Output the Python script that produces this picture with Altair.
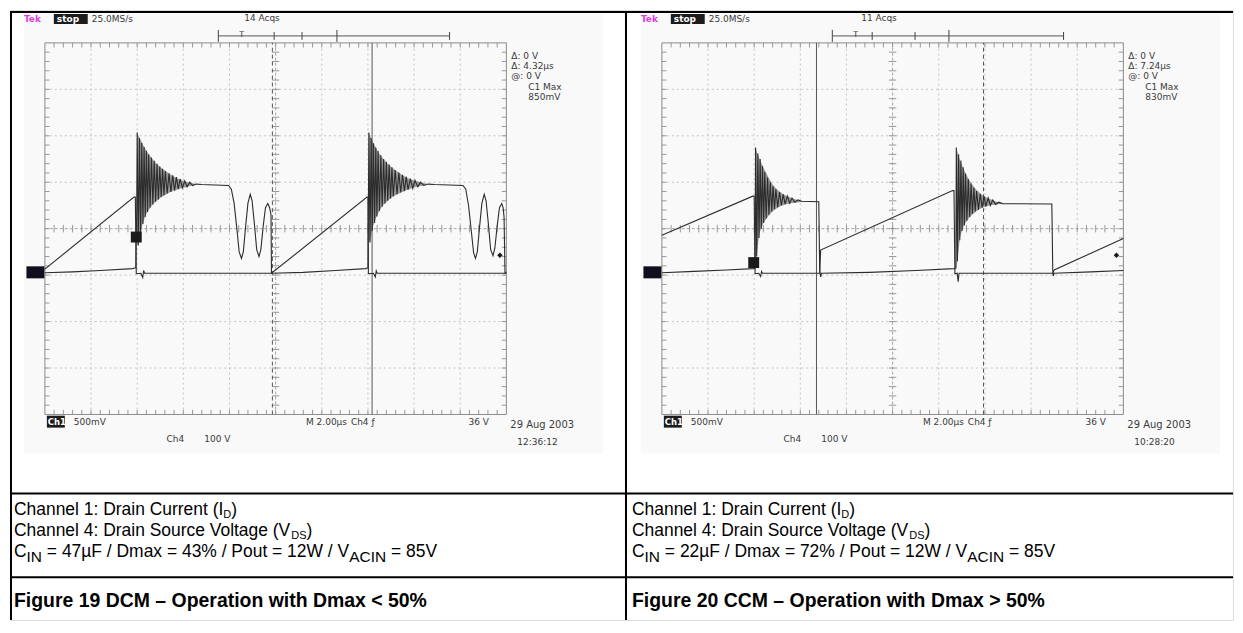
import altair as alt
import pandas as pd

# ---------------- data read off the two scope screens ----------------
# time in divisions (M 2.00 us/div), amplitude in divisions from graticule centre
f19_vds = [(0.00, -0.95), (0.60, -0.93), (1.20, -0.90), (1.90, -0.86), (1.97, -0.84), (1.99, 0.40), (2.00, 2.07),
           (2.025, -0.36), (2.05, 1.95), (2.075, -0.10), (2.10, 1.85), (2.125, 0.10), (2.15, 1.76), (2.175, 0.25),
           (2.20, 1.68), (2.225, 0.36), (2.25, 1.60), (2.28, 0.45), (2.31, 1.53), (2.34, 0.52), (2.37, 1.46),
           (2.40, 0.58), (2.43, 1.40), (2.46, 0.63), (2.49, 1.34), (2.52, 0.68), (2.55, 1.29), (2.58, 0.72),
           (2.61, 1.24), (2.65, 0.76), (2.69, 1.19), (2.73, 0.79), (2.77, 1.15), (2.81, 0.82), (2.85, 1.11),
           (2.89, 0.85), (2.93, 1.07), (2.98, 0.88), (3.03, 1.03), (3.08, 0.90), (3.14, 1.00), (3.20, 0.93),
           (3.28, 0.96), (3.40, 0.95), (3.98, 0.93), (4.04, 0.85), (4.10, 0.55), (4.16, 0.00), (4.21, -0.50),
           (4.26, -0.64), (4.30, -0.50), (4.35, 0.05), (4.40, 0.55), (4.45, 0.74), (4.49, 0.60), (4.54, 0.10),
           (4.59, -0.45), (4.64, -0.60), (4.68, -0.45), (4.73, 0.05), (4.78, 0.45), (4.83, 0.54), (4.87, 0.45),
           (4.90, 0.30), (4.91, -0.96), (4.93, -0.96), (5.60, -0.94), (6.30, -0.90), (6.95, -0.86), (7.00, -0.84),
           (7.01, 0.40), (7.02, 2.07), (7.045, -0.30), (7.07, 1.95), (7.095, -0.05), (7.12, 1.84), (7.145, 0.12),
           (7.17, 1.75), (7.195, 0.26), (7.22, 1.67), (7.25, 0.38), (7.28, 1.58), (7.31, 0.47), (7.34, 1.50),
           (7.37, 0.54), (7.40, 1.44), (7.43, 0.60), (7.46, 1.38), (7.49, 0.65), (7.52, 1.32), (7.55, 0.70),
           (7.59, 1.26), (7.63, 0.74), (7.67, 1.21), (7.71, 0.78), (7.75, 1.16), (7.79, 0.81), (7.83, 1.12),
           (7.87, 0.84), (7.92, 1.08), (7.97, 0.87), (8.02, 1.04), (8.08, 0.90), (8.14, 1.00), (8.21, 0.93),
           (8.30, 0.96), (8.45, 0.95), (9.06, 0.93), (9.12, 0.85), (9.18, 0.50), (9.24, -0.05), (9.29, -0.52),
           (9.33, -0.64), (9.37, -0.50), (9.42, 0.05), (9.47, 0.55), (9.52, 0.74), (9.56, 0.60), (9.61, 0.10),
           (9.66, -0.45), (9.71, -0.58), (9.75, -0.42), (9.80, 0.05), (9.85, 0.45), (9.90, 0.54), (9.93, 0.45),
           (9.95, 0.25), (9.97, -0.96), (10.00, -0.96)]
f19_id = [(0.00, -0.87), (1.93, 0.68), (1.96, 0.68), (1.97, -0.20), (1.98, -0.97), (2.08, -0.96), (2.12, -1.05),
          (2.14, -0.90), (2.16, -0.96), (4.91, -0.96), (6.98, 0.68), (7.00, 0.68), (7.01, -0.97), (7.12, -0.96),
          (7.16, -1.04), (7.18, -0.91), (7.20, -0.96), (9.97, -0.96), (10.00, -0.93)]
# dense leakage-ringing envelope (x, upper, lower)
f19_ring = [[(2.00, 2.07, -0.36), (2.03, 2.00, -0.30), (2.08, 1.90, -0.05), (2.15, 1.76, 0.20), (2.25, 1.60, 0.40),
             (2.40, 1.42, 0.58), (2.60, 1.25, 0.72), (2.80, 1.12, 0.82), (3.00, 1.03, 0.88), (3.25, 0.97, 0.94)],
            [(7.02, 2.07, -0.30), (7.05, 1.99, -0.25), (7.10, 1.88, 0.00), (7.17, 1.75, 0.22), (7.27, 1.58, 0.42),
             (7.42, 1.41, 0.59), (7.62, 1.24, 0.73), (7.82, 1.11, 0.82), (8.02, 1.03, 0.89), (8.27, 0.97, 0.94)]]

f20_vds = [(0.00, -0.95), (0.70, -0.92), (1.40, -0.89), (1.98, -0.86), (2.02, -0.85), (2.03, 1.75),
           (2.055, -0.60), (2.08, 1.62), (2.105, -0.20), (2.13, 1.50), (2.155, 0.00), (2.18, 1.35), (2.205, 0.12),
           (2.23, 1.22), (2.26, 0.22), (2.29, 1.10), (2.32, 0.30), (2.35, 1.00), (2.38, 0.37), (2.41, 0.92),
           (2.44, 0.42), (2.47, 0.85), (2.51, 0.46), (2.55, 0.79), (2.59, 0.50), (2.63, 0.74), (2.67, 0.53),
           (2.72, 0.70), (2.77, 0.55), (2.82, 0.66), (2.88, 0.57), (2.95, 0.62), (3.02, 0.59), (3.40, 0.58),
           (3.42, -0.90), (3.44, -1.04), (3.46, -0.96), (4.50, -0.94), (5.50, -0.90), (6.33, -0.86), (6.37, -0.85),
           (6.38, 1.75), (6.405, -0.70), (6.43, 1.60), (6.455, -0.25), (6.48, 1.47), (6.505, -0.05), (6.53, 1.32),
           (6.555, 0.07), (6.58, 1.19), (6.61, 0.17), (6.64, 1.07), (6.67, 0.25), (6.70, 0.97), (6.73, 0.32),
           (6.76, 0.88), (6.79, 0.37), (6.82, 0.81), (6.86, 0.41), (6.90, 0.75), (6.94, 0.45), (6.98, 0.70),
           (7.02, 0.48), (7.07, 0.66), (7.12, 0.50), (7.17, 0.62), (7.23, 0.52), (7.30, 0.57), (7.38, 0.54),
           (8.45, 0.53), (8.47, -0.90), (8.48, -1.02), (8.50, -0.96), (9.30, -0.93), (10.00, -0.90)]
f20_id = [(0.00, -0.14), (1.97, 0.70), (2.00, 0.70), (2.02, -0.97), (2.10, -0.96), (2.14, -1.03), (2.16, -0.92),
          (2.18, -0.96), (3.42, -0.96), (3.44, -0.46), (6.30, 0.82), (6.33, 0.82), (6.35, -0.97), (6.40, -0.96),
          (6.42, -1.14), (6.44, -0.96), (8.47, -0.96), (8.50, -0.89), (10.00, -0.21)]
f20_ring = [[(2.03, 1.75, -0.85), (2.06, 1.65, -0.55), (2.10, 1.55, -0.20), (2.17, 1.38, 0.05), (2.27, 1.18, 0.22),
             (2.40, 0.95, 0.37), (2.55, 0.80, 0.47), (2.72, 0.70, 0.53), (2.90, 0.63, 0.56), (3.05, 0.60, 0.58)],
            [(6.38, 1.75, -0.90), (6.41, 1.63, -0.65), (6.45, 1.50, -0.28), (6.52, 1.33, 0.00), (6.62, 1.12, 0.18),
             (6.75, 0.92, 0.32), (6.90, 0.76, 0.43), (7.07, 0.66, 0.49), (7.25, 0.58, 0.52), (7.40, 0.55, 0.54)]]

cursor_solid = [7.09, 3.35]
cursor_dash = [4.93, 6.97]
ch4_ground = [-0.94, -0.94]
ch1_marker = [(1.98, -0.18), (1.99, -0.73)]
trig_marker = [(9.86, -0.57), (9.85, -0.57)]

acqs = ["14 Acqs", "11 Acqs"]
readouts = [["\u0394: 0 V", "\u0394: 4.32\u00b5s", "@: 0 V", "C1 Max", "850mV"],
            ["\u0394: 0 V", "\u0394: 7.24\u00b5s", "@: 0 V", "C1 Max", "830mV"]]
stamp = [("29 Aug 2003", "12:36:12"), ("29 Aug 2003", "10:28:20")]
cin = ["47\u00b5F", "22\u00b5F"]
dmax = ["43%", "72%"]
titles = ["Figure 19 DCM \u2013 Operation with Dmax < 50%", "Figure 20 CCM \u2013 Operation with Dmax > 50%"]
trig_bar_ticks = [[217, 273, 301, 336, 449], [214, 254, 297, 331, 446]]

# ---------------- layout ----------------
H = 612
X0 = [8, 626]
WP = [618, 609]
OFF = [0, 619]
DIV_X = 46.3
DIV_Y = 46.6
GRID_LEFT = [43.0, 662.0]
GRID_TOP = 41.0
CENTER_Y = GRID_TOP + 4 * DIV_Y
INK = "#3a3a3a"
FS = "DejaVu Sans"
FD = "Liberation Sans"

ARIAL = {' ': 278, '%': 889, '(': 333, ')': 333, '/': 278, ':': 278, '=': 584, '<': 584, '>': 584, '.': 278,
         '\u2013': 556, '\u00b5': 576, 'A': 667, 'B': 667, 'C': 722, 'D': 722, 'E': 667, 'F': 611, 'G': 778,
         'H': 722, 'I': 278, 'M': 833, 'N': 722, 'O': 778, 'P': 667, 'S': 667, 'V': 667, 'W': 944,
         'a': 556, 'c': 500, 'e': 556, 'g': 556, 'h': 556, 'i': 222, 'l': 222, 'm': 833, 'n': 556, 'o': 556,
         'p': 556, 'r': 333, 't': 278, 'u': 556, 'w': 722, 'x': 500}

dummy = pd.DataFrame({"k": [0]})


def tw(s, size):
    return sum(ARIAL.get(c, 556) for c in s) * size / 1000.0


def txt(s, x, y, size=9, color=INK, font=FS, weight="normal", baseline="middle"):
    return alt.Chart(dummy).mark_text(text=s, fontSize=size, font=font, color=color, fontWeight=weight,
                                      align="left", baseline=baseline).encode(x=alt.value(x), y=alt.value(y))


def box(x1, y1, x2, y2, color):
    return alt.Chart(dummy).mark_rect(color=color).encode(
        x=alt.value(x1), x2=alt.value(x2), y=alt.value(y1), y2=alt.value(y2))


def hline(x1, x2, y, color="#000", w=2):
    return alt.Chart(dummy).mark_rule(color=color, strokeWidth=w).encode(
        x=alt.value(x1), x2=alt.value(x2), y=alt.value(y))


def vline(x, y1, y2, color="#000", w=2):
    return alt.Chart(dummy).mark_rule(color=color, strokeWidth=w).encode(
        x=alt.value(x), y=alt.value(y1), y2=alt.value(y2))


def rich(parts, x, yb, weight="normal"):
    out = []
    cx = x
    for s, size, dy in parts:
        lead = len(s) - len(s.lstrip(" "))
        cx += tw(s[:lead], size)
        body = s.strip(" ")
        out.append(txt(body, cx, yb + dy, size=size, color="#000", font=FD, weight=weight, baseline="alphabetic"))
        cx += tw(s[lead:], size)
    return out


def panel(k, vds, idr, rings):
    x0, w = X0[k], WP[k]
    xd0 = -(GRID_LEFT[k] - x0) / DIV_X
    xd1 = xd0 + w / DIV_X
    yd1 = (CENTER_Y - 8) / DIV_Y
    yd0 = yd1 - H / DIV_Y
    xs = alt.Scale(domain=[xd0, xd1], nice=False, zero=False)
    ys = alt.Scale(domain=[yd0, yd1], nice=False, zero=False)

    def X(f):
        return alt.X(f, type="quantitative", scale=xs, axis=None)

    def Y(f):
        return alt.Y(f, type="quantitative", scale=ys, axis=None)

    def P(px):  # left-panel page x -> local x
        return px + OFF[k] - x0

    def Q(py):
        return py - 8

    layers = []
    layers.append(box(P(22), Q(12), P(603), Q(453), "#f9f9f9"))

    grid_rows = [dict(x=v, x2=v, y=-4, y2=4) for v in [1, 2, 3, 4, 6, 7, 8, 9]] + \
                [dict(x=0, x2=10, y=v, y2=v) for v in [-3, -2, -1, 1, 2, 3]]
    layers.append(alt.Chart(pd.DataFrame(grid_rows)).mark_rule(color="#c4c4c4", strokeWidth=1, strokeDash=[2, 3])
                  .encode(x=X("x"), x2="x2", y=Y("y"), y2="y2"))
    axis_rows = [dict(x=5, x2=5, y=-4, y2=4), dict(x=0, x2=10, y=0, y2=0)]
    layers.append(alt.Chart(pd.DataFrame(axis_rows)).mark_rule(color="#a6a6a6", strokeWidth=1, strokeDash=[3, 2])
                  .encode(x=X("x"), x2="x2", y=Y("y"), y2="y2"))
    tick_rows = []
    for i in range(1, 50):
        v = i * 0.2
        tick_rows += [dict(x=v, x2=v, y=-0.08, y2=0.08), dict(x=v, x2=v, y=4, y2=3.9), dict(x=v, x2=v, y=-4, y2=-3.9)]
    for j in range(1, 40):
        v = -4 + j * 0.2
        tick_rows += [dict(x=4.92, x2=5.08, y=v, y2=v), dict(x=0, x2=0.1, y=v, y2=v), dict(x=9.9, x2=10, y=v, y2=v)]
    layers.append(alt.Chart(pd.DataFrame(tick_rows)).mark_rule(color="#999999", strokeWidth=1)
                  .encode(x=X("x"), x2="x2", y=Y("y"), y2="y2"))
    layers.append(alt.Chart(pd.DataFrame([dict(x=0, x2=10, y=-4, y2=4)]))
                  .mark_rect(fillOpacity=0, stroke="#8c8c8c", strokeWidth=1)
                  .encode(x=X("x"), x2="x2", y=Y("y"), y2="y2"))

    layers.append(alt.Chart(pd.DataFrame({"x": [cursor_solid[k]], "y": [-4], "y2": [4]}))
                  .mark_rule(color="#555555", strokeWidth=1).encode(x=X("x"), y=Y("y"), y2="y2"))
    layers.append(alt.Chart(pd.DataFrame({"x": [cursor_dash[k]], "y": [-4], "y2": [4]}))
                  .mark_rule(color="#555555", strokeWidth=1, strokeDash=[4, 3]).encode(x=X("x"), y=Y("y"), y2="y2"))

    for ring in rings:
        df = pd.DataFrame({"x": [p[0] for p in ring], "up": [p[1] for p in ring], "lo": [p[2] for p in ring]})
        layers.append(alt.Chart(df).mark_area(color="#4a4a4a", opacity=0.55, interpolate="monotone")
                      .encode(x=X("x"), y=Y("up"), y2="lo"))

    for tr in (vds, idr):
        df = pd.DataFrame({"i": range(len(tr)), "x": [p[0] for p in tr], "y": [p[1] for p in tr]})
        layers.append(alt.Chart(df).mark_line(color="#2c2c2c", strokeWidth=1.1)
                      .encode(x=X("x"), y=Y("y"), order="i:Q"))

    layers.append(alt.Chart(pd.DataFrame({"x": [-0.205], "y": [ch4_ground[k]]}))
                  .mark_point(shape="M-1,-0.67L1,-0.67L1,0.67L-1,0.67Z", size=324, filled=True,
                              color="#0f0f1e", opacity=1).encode(x=X("x"), y=Y("y")))
    layers.append(alt.Chart(pd.DataFrame({"x": [ch1_marker[k][0]], "y": [ch1_marker[k][1]]}))
                  .mark_square(size=120, color="#1a1a1a", opacity=1).encode(x=X("x"), y=Y("y")))
    layers.append(alt.Chart(pd.DataFrame({"x": [trig_marker[k][0]], "y": [trig_marker[k][1]]}))
                  .mark_point(shape="diamond", size=30, filled=True, color="#1a1a1a", opacity=1)
                  .encode(x=X("x"), y=Y("y")))

    layers.append(txt("Tek", P(22), Q(17), size=9, color="#e03ce0", weight="bold"))
    layers.append(box(P(52), Q(12), P(86), Q(22), "#1c1c1c"))
    layers.append(txt("stop", P(55), Q(17), size=9, color="#ffffff", weight="bold"))
    layers.append(txt("25.0MS/s", P(90), Q(17)))
    layers.append(txt(acqs[k], P(243), Q(16)))
    tb = trig_bar_ticks[k]
    layers.append(hline(P(tb[0]), P(tb[-1]), Q(34), color="#555555", w=1))
    for n, t in enumerate(tb):
        tall = n in (0, 3)
        layers.append(vline(P(t), Q(28 if tall else 30), Q(40 if tall else 38), color="#444444", w=1))
    layers.append(txt("T", P(tb[0] + 21), Q(33), size=8))

    r = readouts[k]
    layers.append(txt(r[0], P(511), Q(54)))
    layers.append(txt(r[1], P(511), Q(64)))
    layers.append(txt(r[2], P(511), Q(74)))
    layers.append(txt(r[3], P(528), Q(85)))
    layers.append(txt(r[4], P(528), Q(95)))

    layers.append(box(P(45), Q(415), P(63), Q(427), "#1c1c1c"))
    layers.append(txt("Ch1", P(46), Q(421), size=8.5, color="#ffffff", weight="bold"))
    layers.append(txt("500mV", P(72), Q(421)))
    layers.append(txt("M 2.00\u00b5s", P(305), Q(421)))
    layers.append(txt("Ch4 \u0192", P(350), Q(421)))
    layers.append(txt("36 V", P(468), Q(421)))
    layers.append(txt("Ch4", P(165), Q(438)))
    layers.append(txt("100 V", P(203), Q(438)))
    layers.append(txt(stamp[k][0], P(510), Q(424), size=10))
    layers.append(txt(stamp[k][1], P(517), Q(441)))

    layers.append(hline(0, w, Q(10)))
    layers.append(hline(0, w, Q(493)))
    layers.append(hline(0, w, Q(577)))
    layers.append(vline(1 if k == 0 else 0, Q(10), H))

    tx = (12 - 8) if k == 0 else (632 - 626)
    layers += rich([("Channel 1: Drain Current (I", 17.5, 0), ("D", 11, 3), (")", 17.5, 0)], tx, Q(515))
    layers += rich([("Channel 4: Drain Source Voltage (V", 17.5, 0), ("DS", 11, 3), (")", 17.5, 0)], tx, Q(536))
    layers += rich([("C", 17.5, 0), ("IN", 15.5, 5),
                    (" = " + cin[k] + " / Dmax = " + dmax[k] + " / Pout = 12W / V", 17.5, 0),
                    ("ACIN", 15.5, 5), (" = 85V", 17.5, 0)], tx, Q(557))
    layers += rich([(titles[k], 19.5, 0)], tx, Q(607), weight="bold")

    return alt.layer(*layers).properties(width=w, height=H)


chart = alt.hconcat(panel(0, f19_vds, f19_id, f19_ring), panel(1, f20_vds, f20_id, f20_ring),
                    spacing=0, bounds="flush").properties(
    padding=0
).configure_view(strokeWidth=0).configure(background="white")

chart.save("out.html", embed_options={"renderer": "svg", "actions": False})
